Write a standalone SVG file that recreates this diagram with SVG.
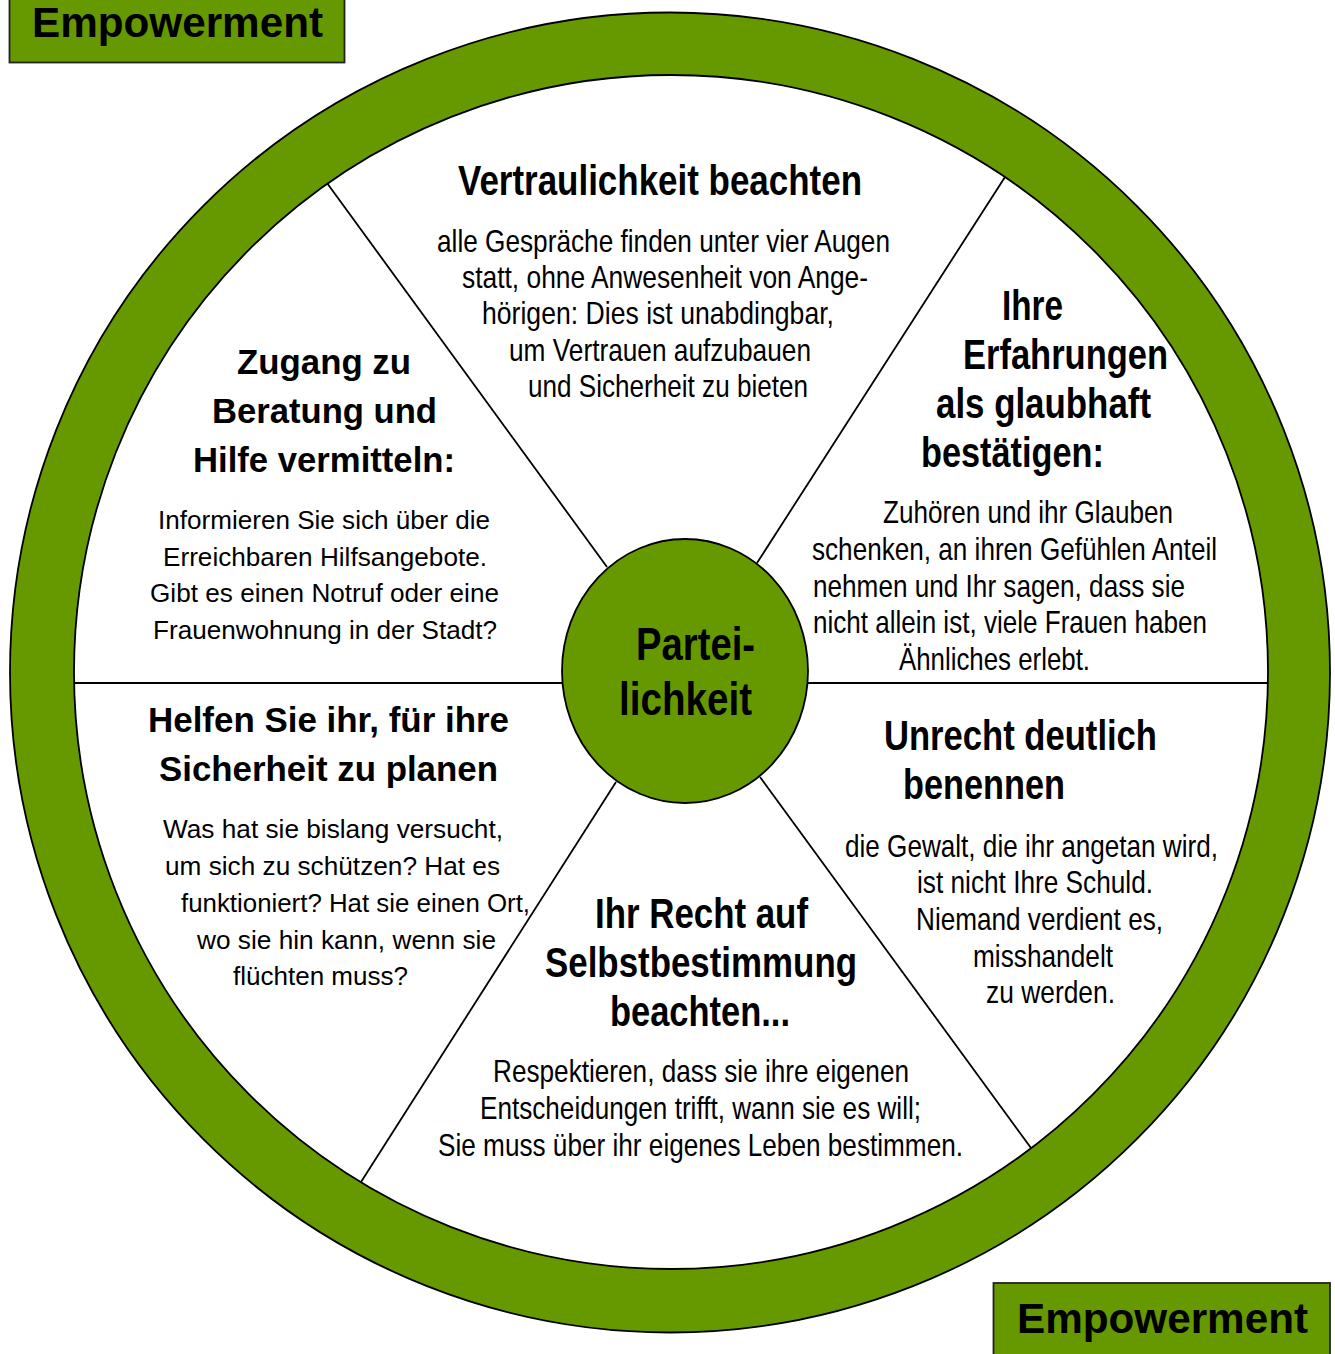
<svg xmlns="http://www.w3.org/2000/svg" width="1335" height="1354" viewBox="0 0 1335 1354">
<style>
.g{fill:#669900;stroke:#000;stroke-width:1.8}
.box{fill:#669900;stroke:#222;stroke-width:1.8}
.ln{stroke:#000;stroke-width:1.8;fill:none}
text{fill:#000}
.nt{font-family:"Liberation Sans Narrow","Liberation Sans",Arial,sans-serif;font-weight:bold;font-size:42px}
.nb{font-family:"Liberation Sans Narrow","Liberation Sans",Arial,sans-serif;font-size:32px}
.nc{font-family:"Liberation Sans Narrow","Liberation Sans",Arial,sans-serif;font-weight:bold;font-size:47px}
.at{font-family:"Liberation Sans",Arial,sans-serif;font-weight:bold;font-size:35px}
.ab{font-family:"Liberation Sans",Arial,sans-serif;font-size:26px}
.em{font-family:"Liberation Sans",Arial,sans-serif;font-weight:bold;font-size:42px}
</style>
<rect width="1335" height="1354" fill="#fff"/>
<g id="ring">
<path class="g" fill-rule="evenodd" d="M10,672.5 A660,660 0 1,0 1330,672.5 A660,660 0 1,0 10,672.5 Z M74,672 A597,597 0 1,0 1268,672 A597,597 0 1,0 74,672 Z"/>
</g>
<g id="connectors">
<line class="ln" x1="327" y1="183" x2="607" y2="567"/>
<line class="ln" x1="1005" y1="177" x2="757" y2="563"/>
<line class="ln" x1="361" y1="1182" x2="616" y2="782"/>
<line class="ln" x1="1031" y1="1148" x2="760" y2="777"/>
<line class="ln" x1="74" y1="683" x2="565" y2="683"/>
<line class="ln" x1="805" y1="683" x2="1268" y2="683"/>
</g>
<g id="center">
<ellipse class="g" cx="685" cy="671" rx="123" ry="132"/>
<text class="nc" x="636" y="660" textLength="119" lengthAdjust="spacingAndGlyphs">Partei-</text>
<text class="nc" x="619" y="715" textLength="133" lengthAdjust="spacingAndGlyphs">lichkeit</text>
</g>
<g id="empowerment-top">
<rect class="box" x="9.5" y="-2" width="335" height="64.5"/>
<text class="em" x="32" y="37" textLength="291" lengthAdjust="spacingAndGlyphs">Empowerment</text>
</g>
<g id="empowerment-bottom">
<rect class="box" x="993.5" y="1283" width="336.5" height="80"/>
<text class="em" x="1017" y="1333" textLength="291" lengthAdjust="spacingAndGlyphs">Empowerment</text>
</g>
<g id="vertraulichkeit">
<text class="nt" x="458" y="195" textLength="404" lengthAdjust="spacingAndGlyphs">Vertraulichkeit beachten</text>
<text class="nb" x="437" y="252" textLength="453" lengthAdjust="spacingAndGlyphs">alle Gespräche finden unter vier Augen</text>
<text class="nb" x="462" y="288" textLength="406" lengthAdjust="spacingAndGlyphs">statt, ohne Anwesenheit von Ange-</text>
<text class="nb" x="482" y="324" textLength="352" lengthAdjust="spacingAndGlyphs">hörigen: Dies ist unabdingbar,</text>
<text class="nb" x="509" y="361" textLength="302" lengthAdjust="spacingAndGlyphs">um Vertrauen aufzubauen</text>
<text class="nb" x="528" y="397" textLength="280" lengthAdjust="spacingAndGlyphs">und Sicherheit zu bieten</text>
</g>
<g id="erfahrungen">
<text class="nt" x="1002" y="320" textLength="61" lengthAdjust="spacingAndGlyphs">Ihre</text>
<text class="nt" x="963" y="369" textLength="205" lengthAdjust="spacingAndGlyphs">Erfahrungen</text>
<text class="nt" x="936" y="418" textLength="215" lengthAdjust="spacingAndGlyphs">als glaubhaft</text>
<text class="nt" x="921" y="467" textLength="183" lengthAdjust="spacingAndGlyphs">bestätigen:</text>
<text class="nb" x="883" y="523" textLength="290" lengthAdjust="spacingAndGlyphs">Zuhören und ihr Glauben</text>
<text class="nb" x="812" y="560" textLength="405" lengthAdjust="spacingAndGlyphs">schenken, an ihren Gefühlen Anteil</text>
<text class="nb" x="813" y="597" textLength="372" lengthAdjust="spacingAndGlyphs">nehmen und Ihr sagen, dass sie</text>
<text class="nb" x="813" y="633" textLength="394" lengthAdjust="spacingAndGlyphs">nicht allein ist, viele Frauen haben</text>
<text class="nb" x="899" y="670" textLength="191" lengthAdjust="spacingAndGlyphs">Ähnliches erlebt.</text>
</g>
<g id="zugang">
<text class="at" x="237" y="374" textLength="174" lengthAdjust="spacingAndGlyphs">Zugang zu</text>
<text class="at" x="212" y="423" textLength="225" lengthAdjust="spacingAndGlyphs">Beratung und</text>
<text class="at" x="193" y="472" textLength="262" lengthAdjust="spacingAndGlyphs">Hilfe vermitteln:</text>
<text class="ab" x="158" y="529" textLength="332" lengthAdjust="spacingAndGlyphs">Informieren Sie sich über die</text>
<text class="ab" x="163" y="566" textLength="324" lengthAdjust="spacingAndGlyphs">Erreichbaren Hilfsangebote.</text>
<text class="ab" x="150" y="602" textLength="349" lengthAdjust="spacingAndGlyphs">Gibt es einen Notruf oder eine</text>
<text class="ab" x="153" y="639" textLength="344" lengthAdjust="spacingAndGlyphs">Frauenwohnung in der Stadt?</text>
</g>
<g id="sicherheit">
<text class="at" x="148" y="732" textLength="361" lengthAdjust="spacingAndGlyphs">Helfen Sie ihr, für ihre</text>
<text class="at" x="159" y="781" textLength="339" lengthAdjust="spacingAndGlyphs">Sicherheit zu planen</text>
<text class="ab" x="163" y="838" textLength="340" lengthAdjust="spacingAndGlyphs">Was hat sie bislang versucht,</text>
<text class="ab" x="165" y="875" textLength="335" lengthAdjust="spacingAndGlyphs">um sich zu schützen? Hat es</text>
<text class="ab" x="181" y="912" textLength="349" lengthAdjust="spacingAndGlyphs">funktioniert? Hat sie einen Ort,</text>
<text class="ab" x="197" y="949" textLength="299" lengthAdjust="spacingAndGlyphs">wo sie hin kann, wenn sie</text>
<text class="ab" x="233" y="985" textLength="175" lengthAdjust="spacingAndGlyphs">flüchten muss?</text>
</g>
<g id="unrecht">
<text class="nt" x="884" y="750" textLength="273" lengthAdjust="spacingAndGlyphs">Unrecht deutlich</text>
<text class="nt" x="903" y="799" textLength="162" lengthAdjust="spacingAndGlyphs">benennen</text>
<text class="nb" x="845" y="857" textLength="373" lengthAdjust="spacingAndGlyphs">die Gewalt, die ihr angetan wird,</text>
<text class="nb" x="917" y="893" textLength="236" lengthAdjust="spacingAndGlyphs">ist nicht Ihre Schuld.</text>
<text class="nb" x="916" y="930" textLength="247" lengthAdjust="spacingAndGlyphs">Niemand verdient es,</text>
<text class="nb" x="973" y="967" textLength="140" lengthAdjust="spacingAndGlyphs">misshandelt</text>
<text class="nb" x="986" y="1003" textLength="129" lengthAdjust="spacingAndGlyphs">zu werden.</text>
</g>
<g id="selbstbestimmung">
<text class="nt" x="595" y="928" textLength="213" lengthAdjust="spacingAndGlyphs">Ihr Recht auf</text>
<text class="nt" x="545" y="977" textLength="312" lengthAdjust="spacingAndGlyphs">Selbstbestimmung</text>
<text class="nt" x="610" y="1026" textLength="180" lengthAdjust="spacingAndGlyphs">beachten...</text>
<text class="nb" x="493" y="1082" textLength="416" lengthAdjust="spacingAndGlyphs">Respektieren, dass sie ihre eigenen</text>
<text class="nb" x="480" y="1119" textLength="441" lengthAdjust="spacingAndGlyphs">Entscheidungen trifft, wann sie es will;</text>
<text class="nb" x="438" y="1156" textLength="525" lengthAdjust="spacingAndGlyphs">Sie muss über ihr eigenes Leben bestimmen.</text>
</g>
</svg>
